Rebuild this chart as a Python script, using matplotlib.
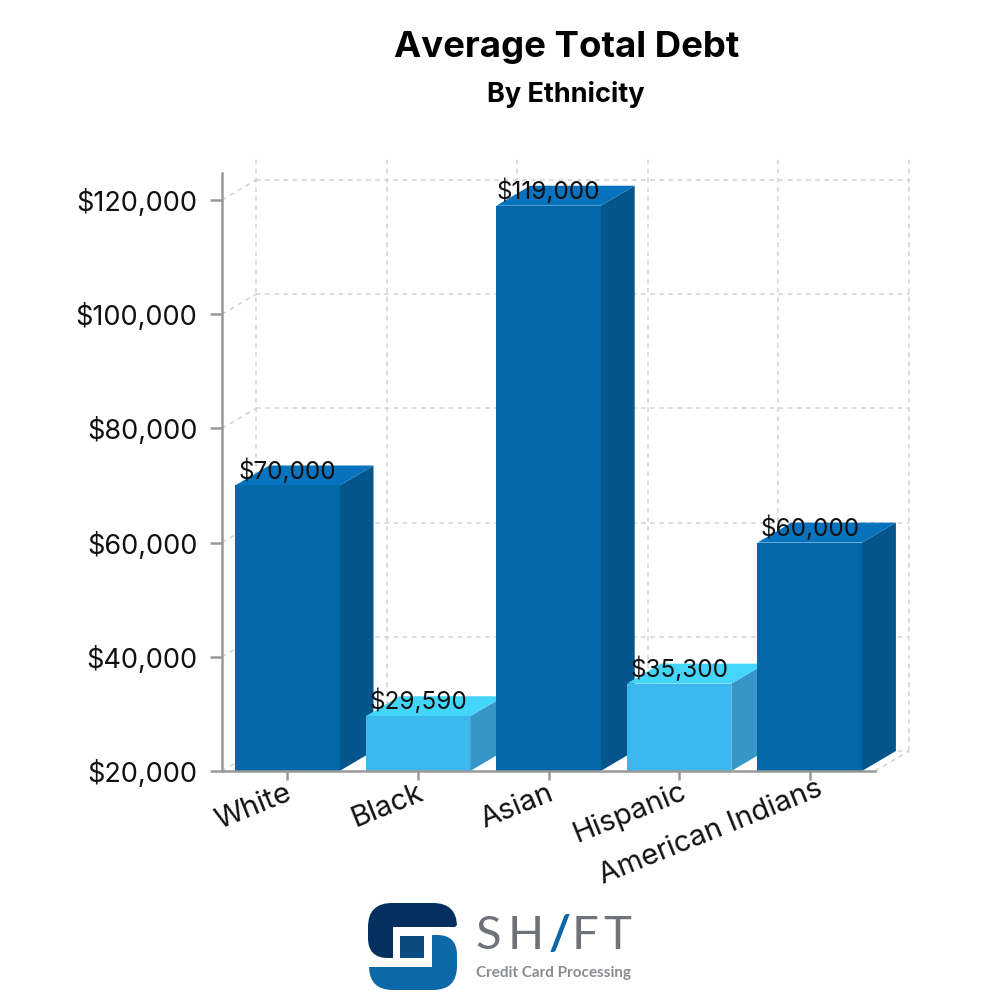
import matplotlib
matplotlib.use("Agg")
import matplotlib.pyplot as plt
from matplotlib.patches import PathPatch, Rectangle
from matplotlib.path import Path
from matplotlib.transforms import ScaledTranslation

categories = ["White", "Black", "Asian", "Hispanic", "American Indians"]
debt = [70000, 29590, 119000, 35300, 60000]
value_labels = ["$70,000", "$29,590", "$119,000", "$35,300", "$60,000"]
is_light = [False, True, False, True, False]
y_ticks = [20000, 40000, 60000, 80000, 100000, 120000]
y_tick_labels = ["$20,000", "$40,000", "$60,000", "$80,000", "$100,000", "$120,000"]

FONT = "Inter"
DARK = dict(front="#0268a8", side="#04558b", top="#0772be")
LIGHT = dict(front="#3db8ee", side="#3796c8", top="#43d6fa")
GRID = "#d2d2d2"
AXIS = "#999999"
DX, DY = 0.26, 3500  # depth of the fake 3d box, in data units
BAR_W = 0.8
YMIN, YMAX = 20000, 124728
LABEL_NUDGE = [(-2, 4), (-1, 5), (-1, 4), (1, 6), (7, 9)]  # pixels, rotated labels drift in the original


def rounded(points, radius):
    """Closed path through points with each corner rounded by radius[i]."""
    n = len(points)
    verts, codes = [], []
    for i, (x, y) in enumerate(points):
        px, py = points[i - 1]
        nx, ny = points[(i + 1) % n]
        r = radius[i]
        d0 = max(abs(px - x), abs(py - y))
        d1 = max(abs(nx - x), abs(ny - y))
        a = (x + (px - x) * r / d0, y + (py - y) * r / d0)
        b = (x + (nx - x) * r / d1, y + (ny - y) * r / d1)
        verts.append(a)
        codes.append(Path.MOVETO if i == 0 else Path.LINETO)
        verts += [(x, y), b]
        codes += [Path.CURVE3, Path.CURVE3]
    verts.append(verts[0])
    codes.append(Path.CLOSEPOLY)
    return Path(verts, codes)


def draw_back_grid(ax):
    grid = dict(color=GRID, lw=1.1, ls=(0, (3, 3)), clip_on=False, zorder=1)
    for v in y_ticks:
        ax.plot([-0.5 + DX, 4.5 + DX], [v + DY, v + DY], **grid)
        ax.plot([-0.5, -0.5 + DX], [v, v + DY], **grid)
    ax.plot([4.5, 4.5 + DX], [YMIN, YMIN + DY], **grid)
    for k in range(6):
        x = -0.5 + DX + k
        ax.plot([x, x], [YMIN + DY, 127900], **grid)


def draw_box(ax, i, value, colors):
    x0, x1 = i - BAR_W / 2, i + BAR_W / 2
    z = 3 + i
    ax.bar(i, value - YMIN, BAR_W, bottom=YMIN, color=colors["front"], zorder=z + 0.2)
    ax.fill([x1, x1 + DX, x1 + DX, x1], [YMIN, YMIN + DY, value + DY, value],
            color=colors["side"], lw=0, zorder=z, clip_on=False)
    ax.fill([x0, x0 + DX, x1 + DX, x1], [value, value + DY, value + DY, value],
            color=colors["top"], lw=0, zorder=z, clip_on=False)


def draw_logo(fig):
    lg = fig.add_axes([0, 0, 1, 1], zorder=5)
    lg.set_xlim(0, 1000); lg.set_ylim(1000, 0)
    lg.axis("off")
    dark = [(368, 903), (457, 903), (457, 927), (393, 927), (393, 958), (368, 958)]
    lg.add_patch(PathPatch(rounded(dark, [24, 24, 3, 0.5, 0.5, 20]), fc="#03305f", lw=0))
    blue = [(432, 935), (457, 935), (457, 990), (369, 990), (369, 967), (432, 967)]
    lg.add_patch(PathPatch(rounded(blue, [0.5, 20, 24, 24, 0.5, 0.5]), fc="#0b69a8", lw=0))
    lg.add_patch(Rectangle((400, 936), 24, 22, fc="#0a4a80", lw=0))
    gray = "#6f7378"
    for ch, x in [("S", 488), ("H", 526), ("F", 585), ("T", 617)]:
        lg.text(x, 936, ch, color=gray, fontsize=34, family="Lato", ha="center", va="center")
    lg.text(560, 936, "/", color="#0b69a8", fontsize=34, family="Lato", weight="bold",
            ha="center", va="center")
    lg.text(476, 973, "Credit Card Processing", color="#8a8d90", fontsize=11, family="Lato",
            weight="bold", ha="left", va="center")


def main():
    fig = plt.figure(figsize=(10, 10), dpi=100, facecolor="white")
    ax = fig.add_axes([0.222, 0.229, 0.653, 0.598])
    ax.set_xlim(-0.5, 4.5); ax.set_ylim(YMIN, YMAX)

    draw_back_grid(ax)
    for i, (value, light) in enumerate(zip(debt, is_light)):
        draw_box(ax, i, value, LIGHT if light else DARK)
        ax.annotate(value_labels[i], xy=(i, value), xytext=(0, 10.5), textcoords="offset points",
                    ha="center", va="center", fontsize=17.5, family=FONT, color="#111111",
                    zorder=20, annotation_clip=False)

    for side in ("top", "right"):
        ax.spines[side].set_visible(False)
    for side in ("left", "bottom"):
        ax.spines[side].set_color(AXIS)
        ax.spines[side].set_linewidth(1.8)
        ax.spines[side].set_zorder(15)
    ax.patch.set_alpha(0)

    ax.set_yticks(y_ticks)
    ax.set_yticklabels(y_tick_labels, fontsize=19.5, family=FONT, color="#111111")
    ax.set_xticks(range(len(categories)))
    ax.set_xticklabels(categories, fontsize=21, family=FONT, color="#111111",
                       rotation=22, ha="right", rotation_mode="anchor")
    ax.tick_params(axis="y", length=8.6, width=1.8, color=AXIS, pad=9)
    ax.tick_params(axis="x", length=6.5, width=1.8, color=AXIS, pad=3)
    for label, (nx, ny) in zip(ax.get_xticklabels(), LABEL_NUDGE):
        label.set_transform(label.get_transform()
                            + ScaledTranslation(nx / 100, ny / 100, fig.dpi_scale_trans))

    fig.text(0.567, 0.952, "Average Total Debt", ha="center", va="center", fontsize=26.3,
             family=FONT, weight="bold", color="black")
    fig.text(0.566, 0.906, "By Ethnicity", ha="center", va="center", fontsize=19.5,
             family=FONT, weight="bold", color="black")

    draw_logo(fig)
    fig.savefig("out.png", dpi=100)
    plt.close(fig)


if __name__ == "__main__":
    main()
